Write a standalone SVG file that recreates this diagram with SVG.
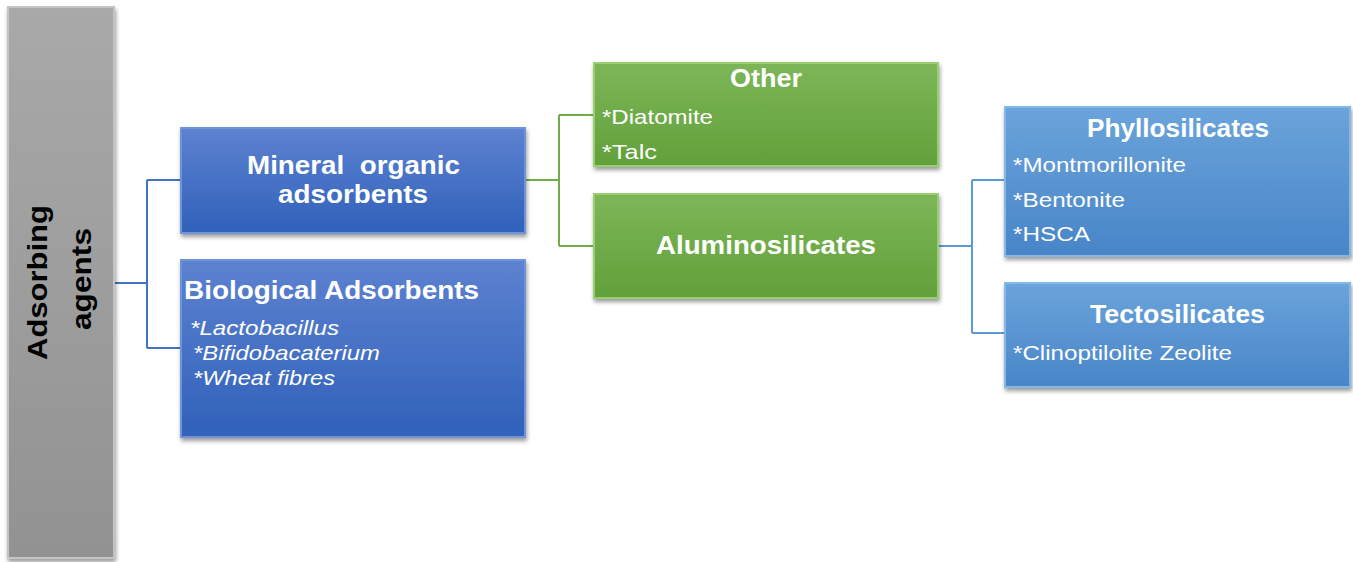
<svg xmlns="http://www.w3.org/2000/svg" width="1353" height="562" viewBox="0 0 1353 562">
<defs>
<linearGradient id="gBlue" x1="0" y1="0" x2="0" y2="1"><stop offset="0" stop-color="#5D82D0"/><stop offset="1" stop-color="#3061BA"/></linearGradient>
<linearGradient id="gGreen" x1="0" y1="0" x2="0" y2="1"><stop offset="0" stop-color="#7DB658"/><stop offset="1" stop-color="#62A03A"/></linearGradient>
<linearGradient id="gLight" x1="0" y1="0" x2="0" y2="1"><stop offset="0" stop-color="#6BA4DB"/><stop offset="1" stop-color="#4885C8"/></linearGradient>
<linearGradient id="gGray" x1="0" y1="0" x2="0" y2="1"><stop offset="0" stop-color="#A9A9A9"/><stop offset="1" stop-color="#929292"/></linearGradient>
<filter id="sh" x="-10%" y="-10%" width="120%" height="130%"><feDropShadow dx="1" dy="3" stdDeviation="2" flood-color="#000" flood-opacity="0.4"/></filter>
</defs>
<style>
.blue{fill:url(#gBlue);stroke:#7094DA;stroke-width:2;filter:url(#sh)}
.green{fill:url(#gGreen);stroke:#98D070;stroke-width:2;filter:url(#sh)}
.light{fill:url(#gLight);stroke:#86B8E6;stroke-width:2;filter:url(#sh)}
.gray{fill:url(#gGray);stroke:#C4C4C4;stroke-width:2;filter:url(#sh)}
text{font-family:"Liberation Sans",Arial,sans-serif;fill:#fff}
.t{font-weight:bold;font-size:26px}
.i{font-size:21px}
.it{font-size:21px;font-style:italic}
.k{fill:#000;font-weight:bold;font-size:28px}
.conn{fill:none;stroke-width:2}
</style>
<g id="connectors">
<path class="conn" stroke="#4472C4" d="M114,283 H147 M147,180 V348 M147,180 H181 M147,348 H181"/>
<path class="conn" stroke="#70AD47" d="M525,180 H559 M559,115 V246 M559,115 H594 M559,246 H594"/>
<path class="conn" stroke="#5B9BD5" d="M938,246 H972 M972,180 V333 M972,180 H1005 M972,333 H1005"/>
</g>
<g id="root">
<rect class="gray" x="8" y="7" width="106" height="551"/>
<text class="k" transform="translate(47,360) rotate(-90)" textLength="155" lengthAdjust="spacingAndGlyphs">Adsorbing</text>
<text class="k" transform="translate(91,330) rotate(-90)" textLength="102" lengthAdjust="spacingAndGlyphs">agents</text>
</g>
<g id="mineral">
<rect class="blue" x="181" y="128" width="344" height="105"/>
<text class="t" x="247" y="174" xml:space="preserve" textLength="213" lengthAdjust="spacingAndGlyphs">Mineral  organic</text>
<text class="t" x="278" y="203" textLength="150" lengthAdjust="spacingAndGlyphs">adsorbents</text>
</g>
<g id="biological">
<rect class="blue" x="181" y="260" width="344" height="177"/>
<text class="t" x="184" y="299" textLength="295" lengthAdjust="spacingAndGlyphs">Biological Adsorbents</text>
<text class="it" x="190" y="335" textLength="149" lengthAdjust="spacingAndGlyphs">*Lactobacillus</text>
<text class="it" x="193" y="360" textLength="187" lengthAdjust="spacingAndGlyphs">*Bifidobacaterium</text>
<text class="it" x="193" y="385" textLength="142" lengthAdjust="spacingAndGlyphs">*Wheat fibres</text>
</g>
<g id="other">
<rect class="green" x="594" y="63" width="344" height="103"/>
<text class="t" x="730" y="87" textLength="72" lengthAdjust="spacingAndGlyphs">Other</text>
<text class="i" x="602" y="124" textLength="111" lengthAdjust="spacingAndGlyphs">*Diatomite</text>
<text class="i" x="602" y="159" textLength="55" lengthAdjust="spacingAndGlyphs">*Talc</text>
</g>
<g id="alumino">
<rect class="green" x="594" y="194" width="344" height="104"/>
<text class="t" x="656" y="254" textLength="220" lengthAdjust="spacingAndGlyphs">Aluminosilicates</text>
</g>
<g id="phyllo">
<rect class="light" x="1005" y="107" width="345" height="149"/>
<text class="t" x="1087" y="137" textLength="182" lengthAdjust="spacingAndGlyphs">Phyllosilicates</text>
<text class="i" x="1013" y="172" textLength="173" lengthAdjust="spacingAndGlyphs">*Montmorillonite</text>
<text class="i" x="1013" y="207" textLength="112" lengthAdjust="spacingAndGlyphs">*Bentonite</text>
<text class="i" x="1013" y="241" textLength="77" lengthAdjust="spacingAndGlyphs">*HSCA</text>
</g>
<g id="tecto">
<rect class="light" x="1005" y="283" width="345" height="104"/>
<text class="t" x="1090" y="323" textLength="175" lengthAdjust="spacingAndGlyphs">Tectosilicates</text>
<text class="i" x="1013" y="360" textLength="219" lengthAdjust="spacingAndGlyphs">*Clinoptilolite Zeolite</text>
</g>
</svg>
